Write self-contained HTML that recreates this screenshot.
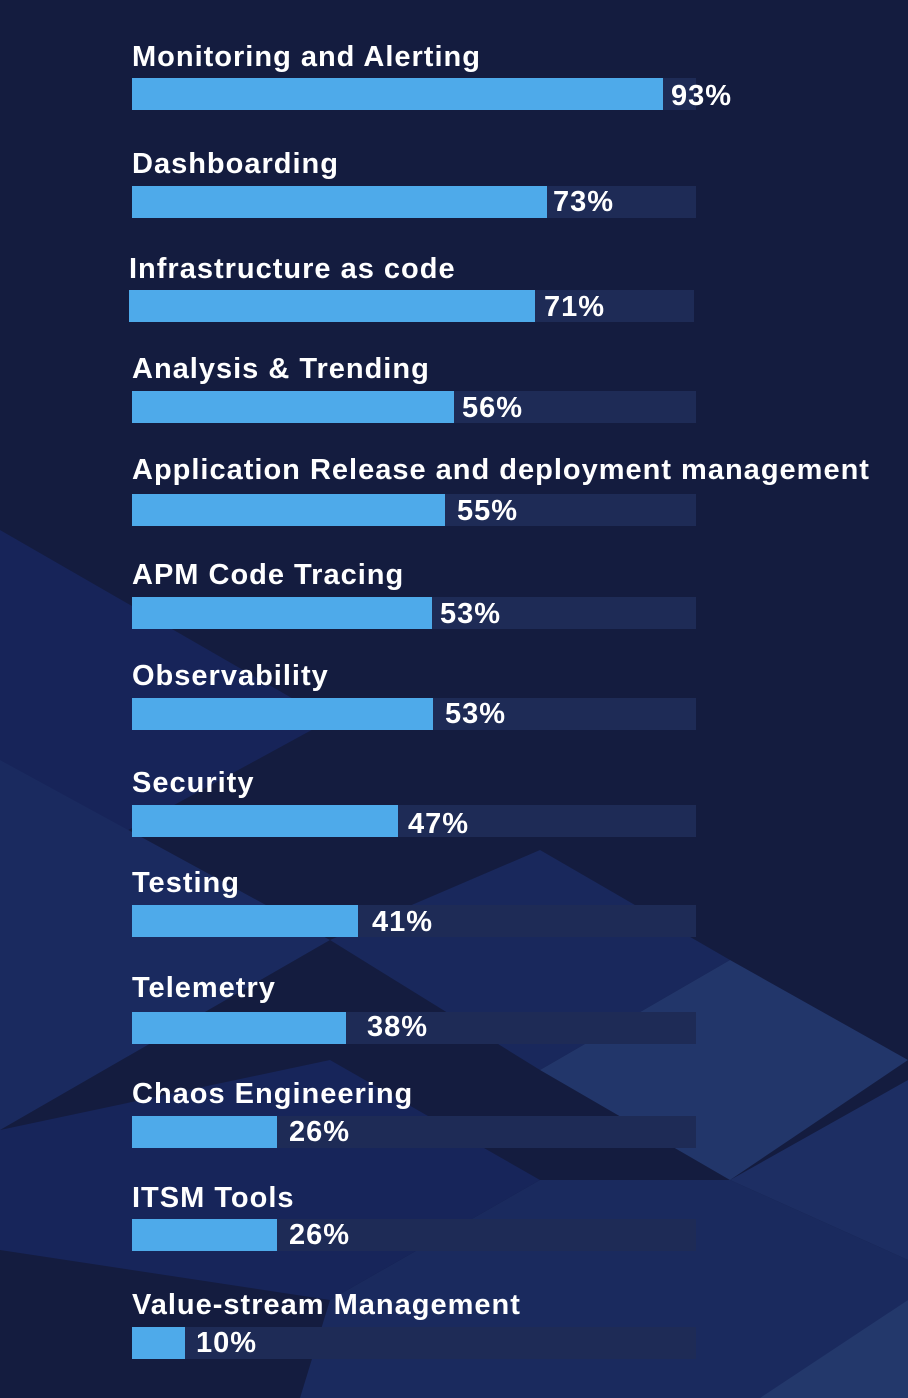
<!DOCTYPE html>
<html><head><meta charset="utf-8"><style>
body{margin:0;width:908px;height:1398px;background:#141c3f;position:relative;overflow:hidden;font-family:"Liberation Sans",sans-serif;font-weight:bold;color:#fff}
svg.bg{position:absolute;left:0;top:0}
.l{position:absolute;font-size:29px;letter-spacing:1px;line-height:30px;white-space:nowrap}
.t{position:absolute;height:32px;background:#1e2b56}
.b{position:absolute;height:32px;background:#4eaaea}
.v{position:absolute;font-size:29px;letter-spacing:1px;line-height:32px}
</style></head><body>
<svg class="bg" width="908" height="1398">
<polygon points="0,530 330,720 0,900" fill="#172459"/>
<polygon points="0,760 330,940 0,1130" fill="#1a2a5f"/>
<polygon points="330,940 540,850 730,960 540,1070" fill="#19285c"/>
<polygon points="540,1070 730,960 908,1060 730,1180" fill="#22366a"/>
<polygon points="0,1130 330,1060 540,1180 330,1300 0,1250" fill="#17255a"/>
<polygon points="330,1300 540,1180 730,1180 908,1260 908,1398 300,1398" fill="#1a2a5e"/>
<polygon points="730,1180 908,1080 908,1260" fill="#1d2e63"/>
<polygon points="760,1398 908,1300 908,1398" fill="#23386b"/>
</svg>
<div class="l" style="left:132px;top:42px">Monitoring and Alerting</div>
<div class="t" style="left:132px;top:78px;width:564px"></div><div class="b" style="left:132px;top:78px;width:531px"></div><div class="v" style="left:671px;top:80px">93%</div>

<div class="l" style="left:132px;top:149px">Dashboarding</div>
<div class="t" style="left:132px;top:186px;width:564px"></div><div class="b" style="left:132px;top:186px;width:415px"></div><div class="v" style="left:553px;top:186px">73%</div>

<div class="l" style="left:129px;top:254px">Infrastructure as code</div>
<div class="t" style="left:129px;top:290px;width:565px"></div><div class="b" style="left:129px;top:290px;width:406px"></div><div class="v" style="left:544px;top:291px">71%</div>

<div class="l" style="left:132px;top:354px">Analysis &amp; Trending</div>
<div class="t" style="left:132px;top:391px;width:564px"></div><div class="b" style="left:132px;top:391px;width:322px"></div><div class="v" style="left:462px;top:392px">56%</div>

<div class="l" style="left:132px;top:455px">Application Release and deployment management</div>
<div class="t" style="left:132px;top:494px;width:564px"></div><div class="b" style="left:132px;top:494px;width:313px"></div><div class="v" style="left:457px;top:495px">55%</div>

<div class="l" style="left:132px;top:560px">APM Code Tracing</div>
<div class="t" style="left:132px;top:597px;width:564px"></div><div class="b" style="left:132px;top:597px;width:300px"></div><div class="v" style="left:440px;top:598px">53%</div>

<div class="l" style="left:132px;top:661px">Observability</div>
<div class="t" style="left:132px;top:698px;width:564px"></div><div class="b" style="left:132px;top:698px;width:301px"></div><div class="v" style="left:445px;top:698px">53%</div>

<div class="l" style="left:132px;top:768px">Security</div>
<div class="t" style="left:132px;top:805px;width:564px"></div><div class="b" style="left:132px;top:805px;width:266px"></div><div class="v" style="left:408px;top:808px">47%</div>

<div class="l" style="left:132px;top:868px">Testing</div>
<div class="t" style="left:132px;top:905px;width:564px"></div><div class="b" style="left:132px;top:905px;width:226px"></div><div class="v" style="left:372px;top:906px">41%</div>

<div class="l" style="left:132px;top:973px">Telemetry</div>
<div class="t" style="left:132px;top:1012px;width:564px"></div><div class="b" style="left:132px;top:1012px;width:214px"></div><div class="v" style="left:367px;top:1011px">38%</div>

<div class="l" style="left:132px;top:1079px">Chaos Engineering</div>
<div class="t" style="left:132px;top:1116px;width:564px"></div><div class="b" style="left:132px;top:1116px;width:145px"></div><div class="v" style="left:289px;top:1116px">26%</div>

<div class="l" style="left:132px;top:1183px">ITSM Tools</div>
<div class="t" style="left:132px;top:1219px;width:564px"></div><div class="b" style="left:132px;top:1219px;width:145px"></div><div class="v" style="left:289px;top:1219px">26%</div>

<div class="l" style="left:132px;top:1290px">Value-stream Management</div>
<div class="t" style="left:132px;top:1327px;width:564px"></div><div class="b" style="left:132px;top:1327px;width:53px"></div><div class="v" style="left:196px;top:1327px">10%</div>
</body></html>
